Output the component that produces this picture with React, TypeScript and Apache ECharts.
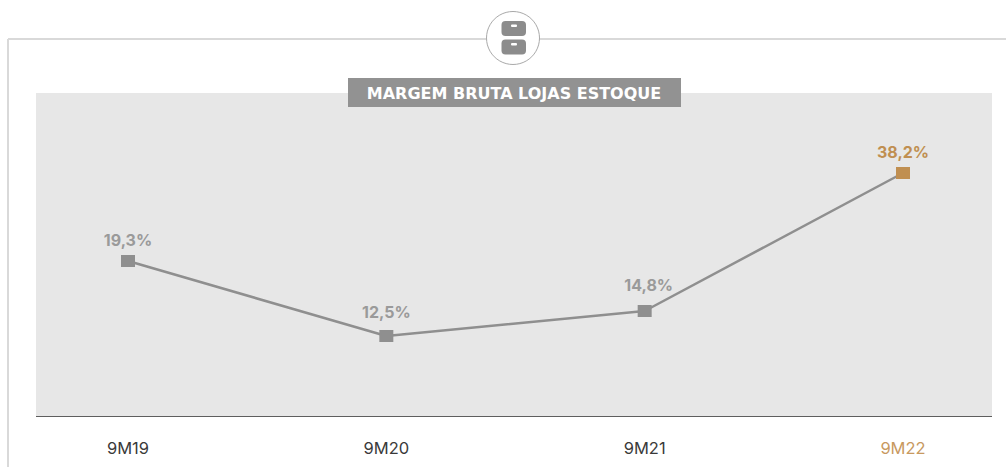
import React, { useEffect, useRef } from "react";
import * as echarts from "echarts";

const categories = ["9M19", "9M20", "9M21", "9M22"];
const valueLabels = ["19,3%", "12,5%", "14,8%", "38,2%"];
// Heights as drawn in the source picture (the source line is not to scale with its labels)
const drawnHeights = [155, 80, 105, 243];
const title = "MARGEM BRUTA LOJAS ESTOQUE";

const GREY = "#8f8f8f";
const GOLD = "#c08f51";
const FONT = "Inter, 'Noto Sans', sans-serif";

export default function App() {
  const ref = useRef<HTMLDivElement>(null);
  useEffect(() => {
    document.body.style.margin = "0";
    const chart = echarts.init(ref.current!, null, { renderer: "svg" });
    const lastIdx = categories.length - 1;
    const labelStyle = (i: number) => {
      if (i === 1) return { offset: [0, -3] };
      if (i === 2) return { offset: [4, -5] };
      return { offset: [0, 0] };
    };
    chart.setOption({
      animation: false,
      backgroundColor: "#ffffff",
      grid: { left: 128, right: 103, top: 93, bottom: 51, containLabel: false },
      xAxis: {
        type: "category",
        boundaryGap: false,
        data: categories.map((c, i) => ({
          value: c,
          textStyle: { color: i === lastIdx ? "#c8995f" : "#3a3a3a" },
        })),
        axisLine: { show: false },
        axisTick: { show: false },
        splitLine: { show: false },
        axisLabel: {
          fontFamily: FONT,
          fontSize: 16.5,
          margin: 23,
          interval: 0,
          hideOverlap: false,
        },
      },
      yAxis: { type: "value", min: 0, max: 323, show: false },
      series: [
        {
          type: "line",
          data: drawnHeights.map((v, i) => ({
            value: v,
            itemStyle: { color: i === lastIdx ? GOLD : GREY },
            label: {
              formatter: valueLabels[i],
              color: i === lastIdx ? GOLD : "#9a9a9a",
              ...labelStyle(i),
            },
          })),
          lineStyle: { color: GREY, width: 2.5 },
          symbol: "rect",
          symbolSize: [14, 12],
          showSymbol: true,
          label: {
            show: true,
            position: "top",
            distance: 7,
            fontFamily: FONT,
            fontWeight: "bold",
            fontSize: 16,
          },
          z: 5,
        },
      ],
      graphic: [
        { type: "line", shape: { x1: 8, y1: 39, x2: 1006, y2: 39 }, style: { stroke: "#d9d9d9", lineWidth: 2 }, z: -10 },
        { type: "line", shape: { x1: 8, y1: 39, x2: 8, y2: 467 }, style: { stroke: "#d9d9d9", lineWidth: 2 }, z: -10 },
        { type: "rect", shape: { x: 36, y: 93, width: 956, height: 323 }, style: { fill: "#e7e7e7" }, z: -9 },
        { type: "line", shape: { x1: 36, y1: 416.5, x2: 992, y2: 416.5 }, style: { stroke: "#5e5e5e", lineWidth: 1.2 }, z: -8 },
        { type: "rect", shape: { x: 348, y: 78, width: 333, height: 29 }, style: { fill: "#929292" }, z: -7 },
        {
          type: "text",
          x: 514,
          y: 93.5,
          style: {
            text: title,
            fill: "#ffffff",
            font: `bold 16px 'DejaVu Sans', ${FONT}`,
            align: "center",
            verticalAlign: "middle",
          },
          z: -6,
        },
        { type: "circle", shape: { cx: 513, cy: 38, r: 26.5 }, style: { fill: "#ffffff", stroke: "#a9a9a9", lineWidth: 1 }, z: -5 },
        { type: "rect", shape: { x: 501.5, y: 21, width: 24.5, height: 15, r: 4 }, style: { fill: "#8c8c8c" }, z: -4 },
        { type: "rect", shape: { x: 501.5, y: 39.5, width: 24.5, height: 15, r: 4 }, style: { fill: "#8c8c8c" }, z: -4 },
        { type: "rect", shape: { x: 511, y: 24.5, width: 6, height: 2.5, r: 1 }, style: { fill: "#ffffff" }, z: -3 },
        { type: "rect", shape: { x: 511, y: 43, width: 6, height: 2.5, r: 1 }, style: { fill: "#ffffff" }, z: -3 },
      ],
    });
    return () => chart.dispose();
  }, []);
  return <div ref={ref} style={{ width: 1006, height: 467 }} />;
}
